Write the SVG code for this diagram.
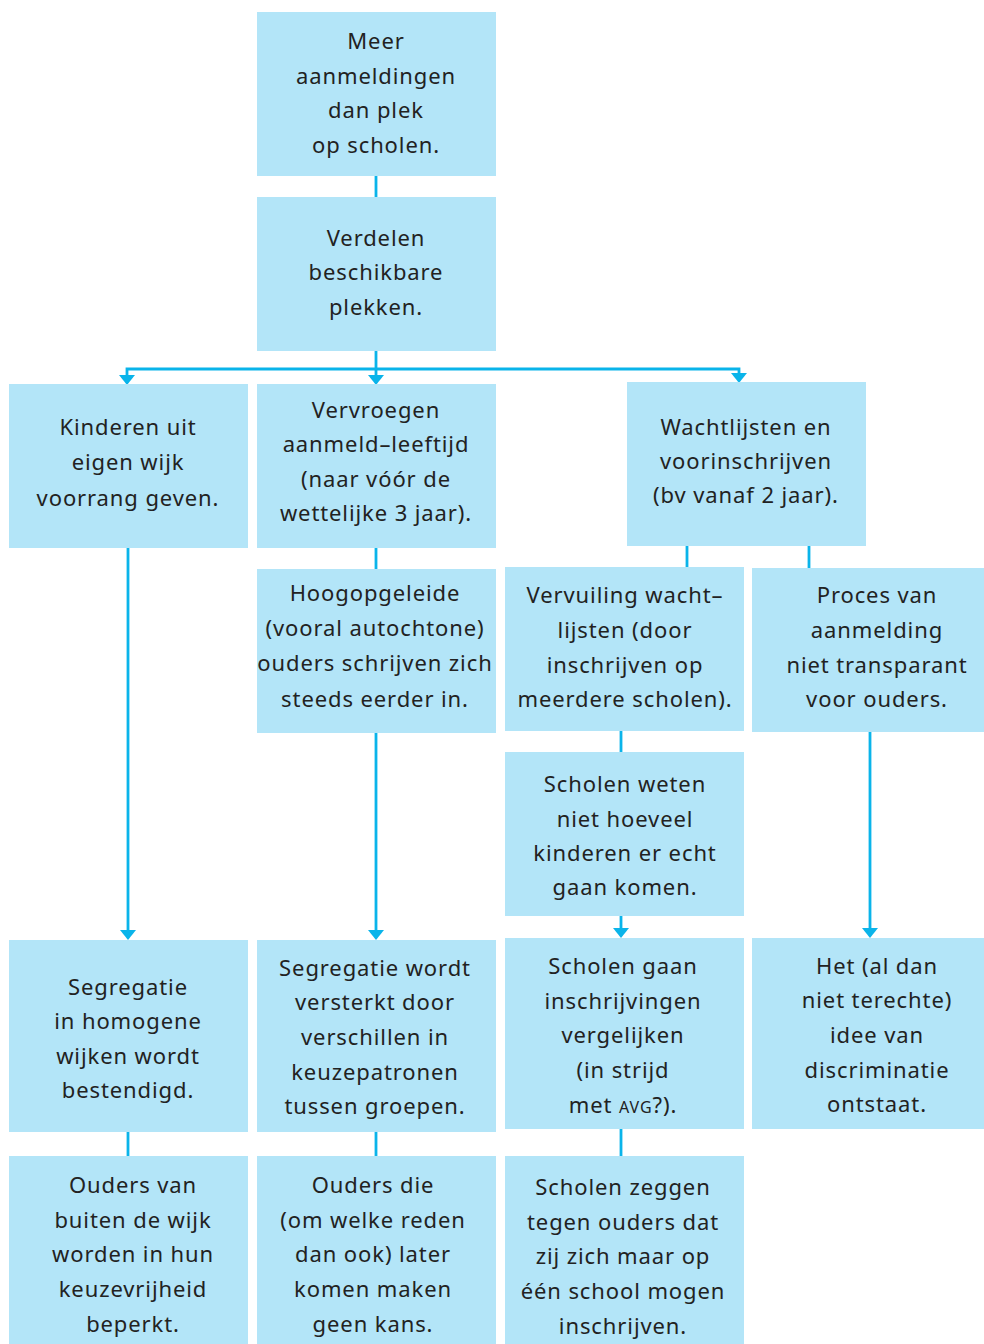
<svg xmlns="http://www.w3.org/2000/svg" width="984" height="1344" viewBox="0 0 984 1344">
<style>
.box{fill:#b3e5f8}
.t{font-family:"Noto Sans","Open Sans",sans-serif;font-size:22px;letter-spacing:0.9px;fill:#222;text-anchor:middle}
.c{stroke:#0ab4ea;stroke-width:2.8;fill:none}
.sc{font-size:16px}
</style>
<rect width="984" height="1344" fill="#fff"/>
<g id="connectors">
<line class="c" x1="376" y1="176" x2="376" y2="197"/>
<line class="c" x1="376" y1="351" x2="376" y2="369"/>
<polyline class="c" points="127,380 127,369 739,369 739,378"/>
<line class="c" x1="376" y1="369" x2="376" y2="380"/>
<line class="c" x1="376" y1="540" x2="376" y2="569"/>
<line class="c" x1="687" y1="538" x2="687" y2="567"/>
<line class="c" x1="809" y1="538" x2="809" y2="573"/>
<line class="c" x1="621" y1="726" x2="621" y2="752"/>
<line class="c" x1="128" y1="545" x2="128" y2="932"/>
<line class="c" x1="376" y1="728" x2="376" y2="932"/>
<line class="c" x1="621" y1="912" x2="621" y2="930"/>
<line class="c" x1="870" y1="728" x2="870" y2="930"/>
<line class="c" x1="128" y1="1125" x2="128" y2="1156"/>
<line class="c" x1="376" y1="1132" x2="376" y2="1156"/>
<line class="c" x1="621" y1="1125" x2="621" y2="1160"/>
<g id="arrowheads" fill="#0ab4ea">
<path d="M119,375 L135,375 L127,385 Z"/>
<path d="M368,375 L384,375 L376,385 Z"/>
<path d="M731,373 L747,373 L739,383 Z"/>
<path d="M120,930 L136,930 L128,940 Z"/>
<path d="M368,930 L384,930 L376,940 Z"/>
<path d="M613,928 L629,928 L621,938 Z"/>
<path d="M862,928 L878,928 L870,938 Z"/>
</g>
</g>
<g id="nodes">
<g id="n1"><rect class="box" x="257" y="12" width="239" height="164"/>
<text class="t"><tspan x="376" y="49">Meer</tspan><tspan x="376" y="84">aanmeldingen</tspan><tspan x="376" y="118">dan plek</tspan><tspan x="376" y="153">op scholen.</tspan></text></g>
<g id="n2"><rect class="box" x="257" y="197" width="239" height="154"/>
<text class="t"><tspan x="376" y="246">Verdelen</tspan><tspan x="376" y="280">beschikbare</tspan><tspan x="376" y="315">plekken.</tspan></text></g>
<g id="n3"><rect class="box" x="9" y="384" width="239" height="164"/>
<text class="t"><tspan x="128" y="435">Kinderen uit</tspan><tspan x="128" y="470">eigen wijk</tspan><tspan x="128" y="506">voorrang geven.</tspan></text></g>
<g id="n4"><rect class="box" x="257" y="384" width="239" height="164"/>
<text class="t"><tspan x="376" y="418">Vervroegen</tspan><tspan x="376" y="452">aanmeld–leeftijd</tspan><tspan x="376" y="487">(naar vóór de</tspan><tspan x="376" y="521">wettelijke 3 jaar).</tspan></text></g>
<g id="n5"><rect class="box" x="627" y="382" width="239" height="164"/>
<text class="t"><tspan x="746" y="435">Wachtlijsten en</tspan><tspan x="746" y="469">voorinschrijven</tspan><tspan x="746" y="503">(bv vanaf 2 jaar).</tspan></text></g>
<g id="n6"><rect class="box" x="257" y="569" width="239" height="164"/>
<text class="t"><tspan x="375" y="601">Hoogopgeleide</tspan><tspan x="375" y="636">(vooral autochtone)</tspan><tspan x="375" y="671">ouders schrijven zich</tspan><tspan x="375" y="707">steeds eerder in.</tspan></text></g>
<g id="n7"><rect class="box" x="505" y="567" width="239" height="164"/>
<text class="t"><tspan x="625" y="603">Vervuiling wacht–</tspan><tspan x="625" y="638">lijsten (door</tspan><tspan x="625" y="673">inschrijven op</tspan><tspan x="625" y="707">meerdere scholen).</tspan></text></g>
<g id="n8"><rect class="box" x="752" y="568" width="232" height="164"/>
<text class="t"><tspan x="877" y="603">Proces van</tspan><tspan x="877" y="638">aanmelding</tspan><tspan x="877" y="673">niet transparant</tspan><tspan x="877" y="707">voor ouders.</tspan></text></g>
<g id="n9"><rect class="box" x="505" y="752" width="239" height="164"/>
<text class="t"><tspan x="625" y="792">Scholen weten</tspan><tspan x="625" y="827">niet hoeveel</tspan><tspan x="625" y="861">kinderen er echt</tspan><tspan x="625" y="895">gaan komen.</tspan></text></g>
<g id="n10"><rect class="box" x="9" y="940" width="239" height="192"/>
<text class="t"><tspan x="128" y="995">Segregatie</tspan><tspan x="128" y="1029">in homogene</tspan><tspan x="128" y="1064">wijken wordt</tspan><tspan x="128" y="1098">bestendigd.</tspan></text></g>
<g id="n11"><rect class="box" x="257" y="940" width="239" height="192"/>
<text class="t"><tspan x="375" y="976">Segregatie wordt</tspan><tspan x="375" y="1010">versterkt door</tspan><tspan x="375" y="1045">verschillen in</tspan><tspan x="375" y="1080">keuzepatronen</tspan><tspan x="375" y="1114">tussen groepen.</tspan></text></g>
<g id="n12"><rect class="box" x="505" y="938" width="239" height="191"/>
<text class="t"><tspan x="623" y="974">Scholen gaan</tspan><tspan x="623" y="1009">inschrijvingen</tspan><tspan x="623" y="1043">vergelijken</tspan><tspan x="623" y="1078">(in strijd</tspan><tspan x="623" y="1113">met <tspan class="sc">AVG</tspan>?).</tspan></text></g>
<g id="n13"><rect class="box" x="752" y="938" width="232" height="191"/>
<text class="t"><tspan x="877" y="974">Het (al dan</tspan><tspan x="877" y="1008">niet terechte)</tspan><tspan x="877" y="1043">idee van</tspan><tspan x="877" y="1078">discriminatie</tspan><tspan x="877" y="1112">ontstaat.</tspan></text></g>
<g id="n14"><rect class="box" x="9" y="1156" width="239" height="188"/>
<text class="t"><tspan x="133" y="1193">Ouders van</tspan><tspan x="133" y="1228">buiten de wijk</tspan><tspan x="133" y="1262">worden in hun</tspan><tspan x="133" y="1297">keuzevrijheid</tspan><tspan x="133" y="1332">beperkt.</tspan></text></g>
<g id="n15"><rect class="box" x="257" y="1156" width="239" height="188"/>
<text class="t"><tspan x="373" y="1193">Ouders die</tspan><tspan x="373" y="1228">(om welke reden</tspan><tspan x="373" y="1262">dan ook) later</tspan><tspan x="373" y="1297">komen maken</tspan><tspan x="373" y="1332">geen kans.</tspan></text></g>
<g id="n16"><rect class="box" x="505" y="1156" width="239" height="188"/>
<text class="t"><tspan x="623" y="1195">Scholen zeggen</tspan><tspan x="623" y="1230">tegen ouders dat</tspan><tspan x="623" y="1264">zij zich maar op</tspan><tspan x="623" y="1299">één school mogen</tspan><tspan x="623" y="1334">inschrijven.</tspan></text></g>
</g>
</svg>
